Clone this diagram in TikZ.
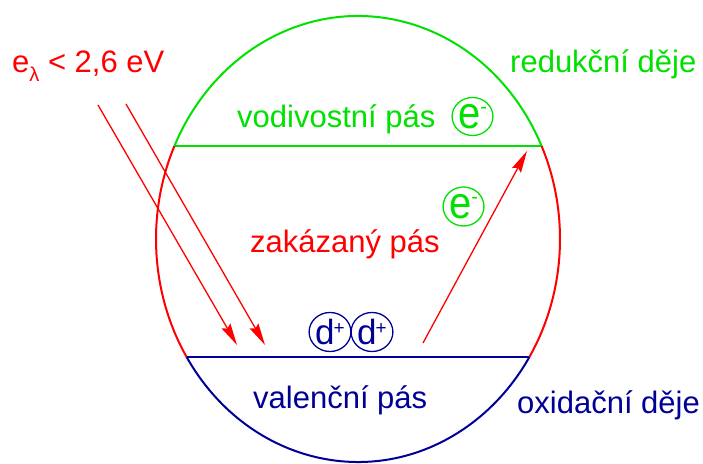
\documentclass[tikz,border=0pt]{standalone}
\usepackage{fontspec}
\setmainfont{Liberation Sans}
\usetikzlibrary{arrows.meta,shapes.geometric}
\definecolor{grn}{RGB}{0,225,0}
\definecolor{rd}{RGB}{255,0,0}
\definecolor{blu}{RGB}{0,0,150}
\begin{document}
\begin{tikzpicture}[x=1pt,y=1pt,
  lbl/.style={anchor=base west, inner sep=0pt, font=\fontsize{31}{36}\selectfont},
  band/.style={line width=2pt},
  ray/.style={rd, line width=1.3pt, -{Stealth[length=22pt,width=10pt,inset=3pt]}},
  circ/.style={ellipse, draw, line width=1.3pt, minimum width=34pt, minimum height=38pt, inner sep=0pt}
]
\useasboundingbox (0,0) rectangle (703,463);
\coordinate (O) at (358,224);
\path ([shift={(24.65:202 and 223)}]O) coordinate (gR);
% bands and outline
\draw[grn, band] (gR) arc[start angle=24.65, end angle=155.35, x radius=202, y radius=223] coordinate (gL);
\draw[grn, band] (gL) -- (gR);
\draw[rd, band] (gL) arc[start angle=155.35, end angle=211.95, x radius=202, y radius=223] coordinate (bL);
\draw[blu, band] (bL) arc[start angle=211.95, end angle=328.05, x radius=202, y radius=223] coordinate (bR);
\draw[blu, band] (bL) -- (bR);
\draw[rd, band] (bR) arc[start angle=328.05, end angle=384.65, x radius=202, y radius=223];
% labels
\node[lbl, rd] (energy) at (12,390) {e\raisebox{-9pt}{\fontsize{20}{20}\selectfont λ} < 2,6 eV};
\node[lbl, grn] (cb) at (237,335) {vodivostní pás};
\node[lbl, grn] (red) at (510,390) {redukční děje};
\node[lbl, rd] (gap) at (250,210) {zakázaný pás};
\node[lbl, blu] (vb) at (253,55) {valenční pás};
\node[lbl, blu] (ox) at (517,50) {oxidační děje};
% charges
\node[circ, grn] (e1) at (472.5,346.5) {\fontsize{40}{40}\selectfont\scalebox{1}[1.12]{e}\raisebox{15pt}{\fontsize{20}{20}\selectfont -}};
\node[circ, grn, minimum width=35pt, minimum height=39pt] (e2) at (463.5,256.5) {\fontsize{40}{40}\selectfont\scalebox{1}[1.12]{e}\raisebox{15pt}{\fontsize{20}{20}\selectfont -}};
\node[circ, blu, minimum height=39pt] (d1) at (330,131) {\fontsize{35}{35}\selectfont d\kern-1pt\raisebox{10pt}{\fontsize{19}{19}\selectfont +}};
\node[circ, blu, minimum width=36pt, minimum height=39pt] (d2) at (372,131) {\fontsize{35}{35}\selectfont d\kern-1pt\raisebox{10pt}{\fontsize{19}{19}\selectfont +}};
% rays
\coordinate (s1) at (98,358);
\coordinate (t1) at (237,118);
\coordinate (s2) at (126,359);
\coordinate (t2) at (265,118);
\coordinate (s3) at (423,120);
\coordinate (t3) at (527,312);
\draw[ray] (s1) -- (t1);
\draw[ray] (s2) -- (t2);
\draw[ray] (s3) -- (t3);
\end{tikzpicture}
\end{document}
